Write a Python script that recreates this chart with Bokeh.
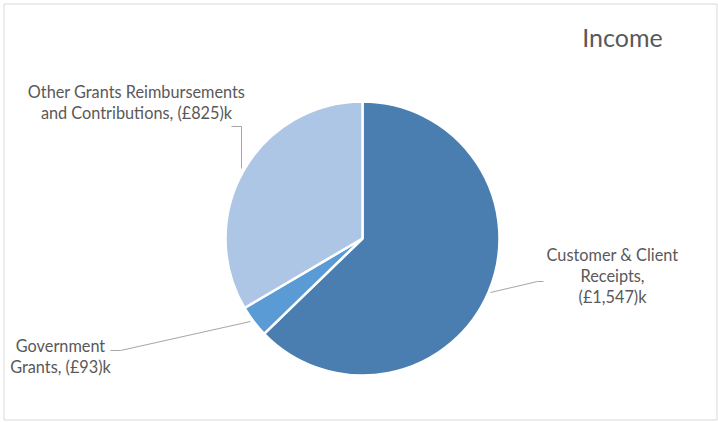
import math
from bokeh.plotting import figure
from bokeh.models import Range1d
from bokeh.core.properties import value
from bokeh.embed import file_html
from bokeh.resources import INLINE

# ---- data ----
categories = ["Customer & Client Receipts", "Government Grants", "Other Grants Reimbursements and Contributions"]
amounts = [1547, 93, 825]
label_lines = [
    ["Customer & Client", "Receipts,", "(£1,547)k"],
    ["Government", "Grants, (£93)k"],
    ["Other Grants Reimbursements", "and Contributions, (£825)k"],
]
colors = ["#4A7EB0", "#5B9BD5", "#ADC6E6"]
title = "Income"

# ---- layout (pixel space, y measured from top) ----
W, H = 718, 422
CX, CY, R = 362, 238, 137
label_pos = [(612, 254), (60, 345), (136, 91)]
LINE_H = 21
leaders = [
    [(490, 292), (537, 281), (543, 281)],
    [(110, 350), (120, 350), (250, 321)],
    [(231, 126), (241, 126), (241, 168)],
]
TEXT = "#595959"

def fy(y):
    return H - y

p = figure(width=W, height=H, output_backend="svg", toolbar_location=None,
           x_range=Range1d(0, W), y_range=Range1d(0, H),
           x_axis_location=None, y_axis_location=None, min_border=0)
p.grid.visible = False
p.outline_line_color = None
p.background_fill_color = "white"
p.border_fill_color = "white"

# chart border
p.quad(left=[3.5], right=[716.5], top=[fy(3.5)], bottom=[fy(419.5)],
       fill_color=None, line_color="#D9D9D9", line_width=1)

total = sum(amounts)
starts, ends = [], []
cum = 0.0
for a in amounts:
    starts.append(math.pi / 2 - 2 * math.pi * cum / total)
    cum += a
    ends.append(math.pi / 2 - 2 * math.pi * cum / total)

p.wedge(x=[CX] * len(amounts), y=[fy(CY)] * len(amounts), radius=R,
        start_angle=starts, end_angle=ends, direction="clock",
        fill_color=colors, line_color="white", line_width=2.5)

# leader lines
p.multi_line(xs=[[pt[0] for pt in seg] for seg in leaders],
             ys=[[fy(pt[1]) for pt in seg] for seg in leaders],
             line_color="#A6A6A6", line_width=1)

# labels
tx, ty, tt = [], [], []
for (lx, ly), lines in zip(label_pos, label_lines):
    for i, s in enumerate(lines):
        tx.append(lx)
        ty.append(fy(ly + i * LINE_H))
        tt.append(s)
p.text(x=tx, y=ty, text=tt, text_align="center", text_baseline="middle",
       text_color=TEXT, text_font=value("Lato"), text_font_size="16.3px")

p.text(x=[622], y=[fy(36)], text=[title], text_align="center", text_baseline="middle",
       text_color=TEXT, text_font=value("Lato"), text_font_size="25px")

open("out.html", "w").write(file_html(p, INLINE))
